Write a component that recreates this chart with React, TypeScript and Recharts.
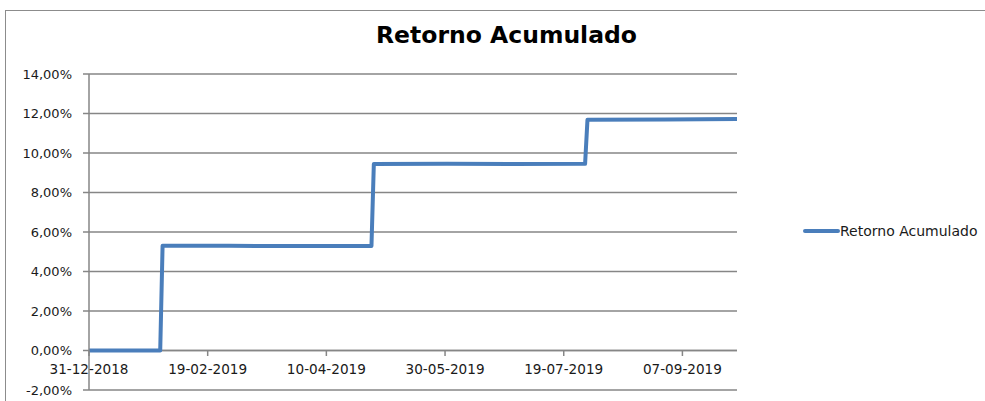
import { CartesianGrid, Line, LineChart, ReferenceLine, XAxis, YAxis } from 'recharts';

const dates = [
  '31-12-2018', '15-01-2019', '30-01-2019', '31-01-2019', '28-02-2019', '29-03-2019', '29-04-2019',
  '30-04-2019', '31-05-2019', '28-06-2019', '28-07-2019', '29-07-2019', '31-08-2019', '30-09-2019'
];
const retorno = [0, 0, 0, 5.3, 5.3, 5.29, 5.29, 9.44, 9.45, 9.44, 9.45, 11.68, 11.7, 11.72];
const xTickLabels = ['31-12-2018', '19-02-2019', '10-04-2019', '30-05-2019', '19-07-2019', '07-09-2019'];
const xDomain = ['31-12-2018', '30-09-2019'];
const yTicks = [-2, 0, 2, 4, 6, 8, 10, 12, 14];

const FONT = '"DejaVu Sans", sans-serif';
const GRID = '#868686';
const BLUE = '#4a7ebb';
const TEXT = '#1a1a1a';

const toTime = (s: string) => {
  const [d, m, y] = s.split('-').map(Number);
  return Date.UTC(y, m - 1, d);
};

const fmtDate = (t: number) => {
  const d = new Date(t);
  const p = (n: number) => String(n).padStart(2, '0');
  return `${p(d.getUTCDate())}-${p(d.getUTCMonth() + 1)}-${d.getUTCFullYear()}`;
};

const data = dates.map((d, i) => ({ t: toTime(d), value: retorno[i] }));

// x axis sits on the 0% line, not at the bottom of the plot
const XTick = ({ x, y, payload }: any) => (
  <g>
    <line x1={x} y1={y - 39} x2={x} y2={y - 34} stroke={GRID} strokeWidth={1.5} />
    <text x={x} y={y - 16} textAnchor='middle' fill={TEXT} fontSize={13.6} fontFamily={FONT}>
      {fmtDate(payload.value)}
    </text>
  </g>
);

export default function App() {
  return (
    <div style={{ position: 'absolute', left: 0, top: 0, width: 985, height: 401, background: '#fff', overflow: 'hidden' }}>
      <div style={{ position: 'absolute', left: 5, top: 10, width: 1000, height: 420, border: '1px solid #8c8c8c' }} />
      <div
        style={{
          position: 'absolute', left: 0, top: 21, width: 1013, textAlign: 'center',
          fontFamily: FONT, fontWeight: 700, fontSize: 23.5, color: '#000'
        }}
      >
        Retorno Acumulado
      </div>
      <div
        style={{
          position: 'absolute', left: 803, top: 223, display: 'flex', alignItems: 'center',
          fontFamily: FONT, fontSize: 14, color: TEXT
        }}
      >
        <div style={{ width: 37, height: 4, background: BLUE, borderRadius: 2 }} />
        <span>Retorno Acumulado</span>
      </div>
      <LineChart width={985} height={401} data={data} margin={{ top: 74, right: 248, bottom: 10, left: 0 }}>
        <CartesianGrid vertical={false} stroke={GRID} strokeWidth={1.5} />
        <XAxis
          dataKey='t'
          type='number'
          domain={xDomain.map(toTime)}
          ticks={xTickLabels.map(toTime)}
          height={1}
          tickSize={0}
          tickMargin={0}
          axisLine={false}
          tickLine={false}
          tick={<XTick />}
          interval={0}
        />
        <YAxis
          domain={[-2, 14]}
          ticks={yTicks}
          width={89}
          tickSize={6}
          tickMargin={11}
          tickFormatter={(v: number) => `${v.toFixed(2).replace('.', ',')}%`}
          tick={{ fill: TEXT, fontSize: 13, fontFamily: FONT }}
          axisLine={{ stroke: GRID, strokeWidth: 1.5 }}
          tickLine={{ stroke: GRID, strokeWidth: 1.5 }}
          interval={0}
        />
        <ReferenceLine y={0} stroke={GRID} strokeWidth={1.5} />
        <Line
          type='linear'
          dataKey='value'
          stroke={BLUE}
          strokeWidth={4}
          dot={false}
          strokeLinejoin='round'
          isAnimationActive={false}
        />
      </LineChart>
    </div>
  );
}
